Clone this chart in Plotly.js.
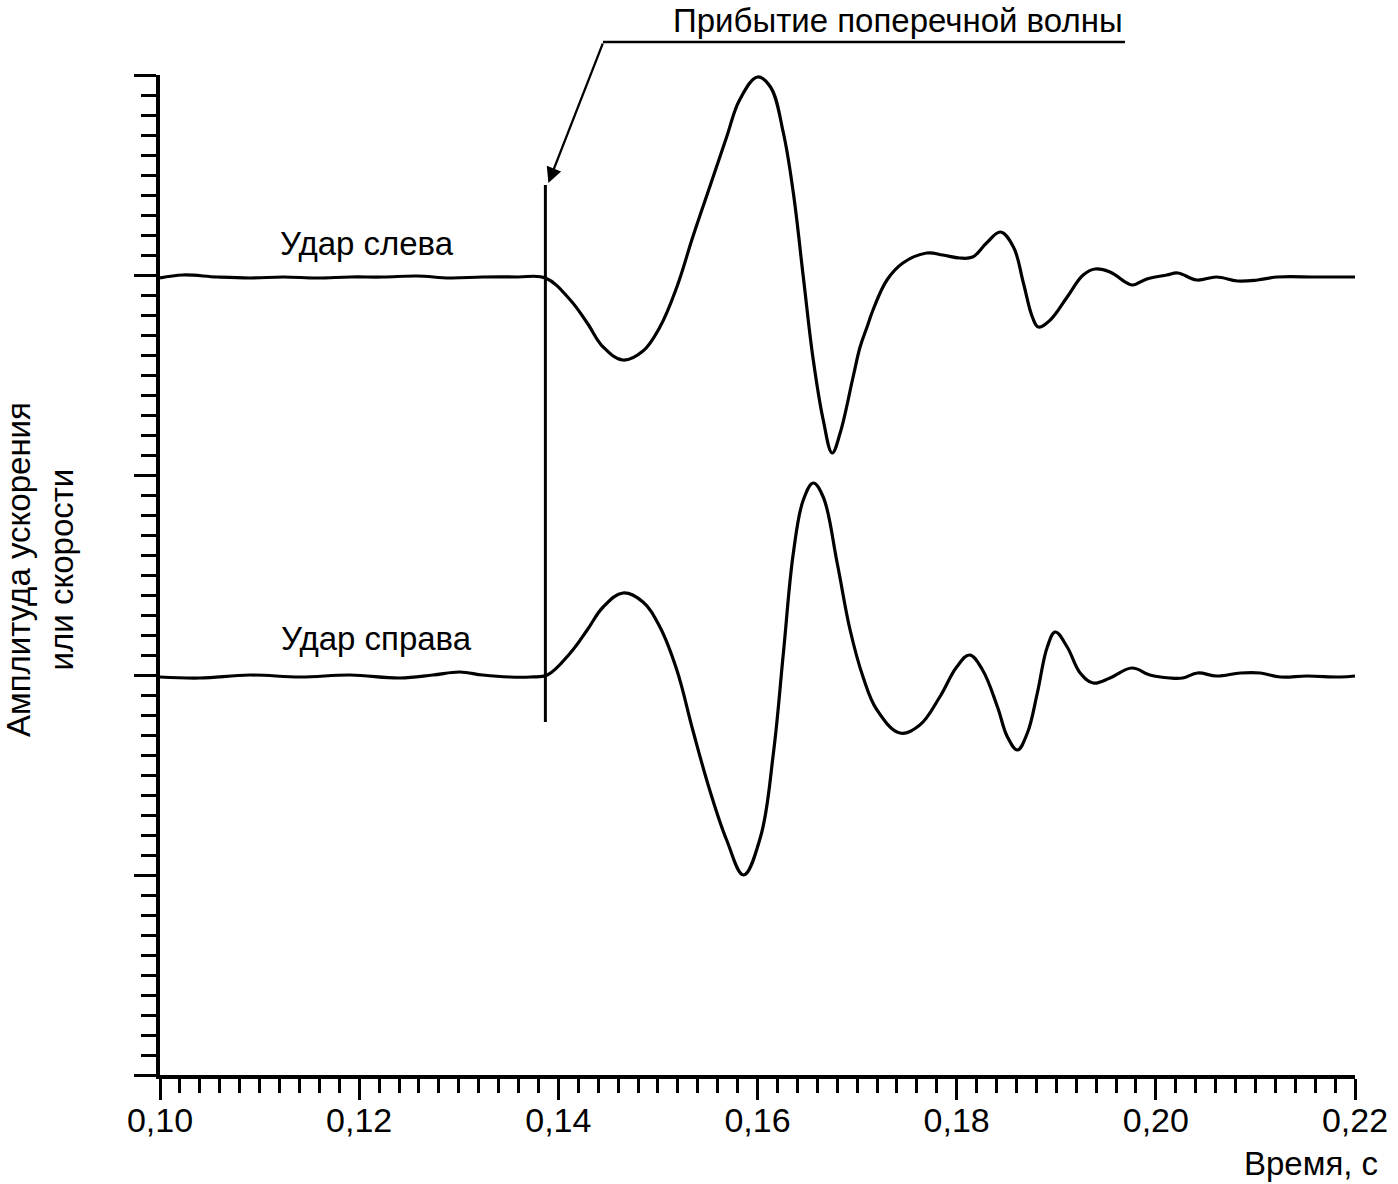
<!DOCTYPE html>
<html>
<head>
<meta charset="utf-8">
<script src="https://cdn.plot.ly/plotly-3.0.1.min.js"></script>
<style>body{margin:0;background:#fff}</style>
</head>
<body>
<div id="chart" style="width:1398px;height:1184px"></div>
<script>
// time, s
var timeLeft = [0.1000,0.1023,0.1057,0.1090,0.1124,0.1158,0.1191,0.1224,0.1258,0.1291,0.1324,0.1359,0.1387,
  0.1412,0.1429,0.1445,0.1465,0.1485,0.1502,0.1519,0.1535,0.1552,0.1569,0.1582,0.1600,0.1613,0.1626,0.1636,0.1646,0.1656,0.1666,0.1675,0.1683,
  0.1696,0.1703,0.1710,0.1716,0.1730,0.1746,0.1770,0.1786,0.1803,0.1816,0.1830,0.1844,0.1857,0.1867,0.1876,0.1882,0.1894,0.1911,0.1927,0.1939,
  0.1954,0.1971,0.1977,0.1991,0.2011,0.2022,0.2041,0.2061,0.2082,0.2102,0.2122,0.2162,0.2200];
var ampLeft = [3.985,4.0,3.99,3.985,3.99,3.985,3.99,3.99,3.995,3.985,3.99,3.99,3.985,
  3.875,3.76,3.64,3.575,3.62,3.74,3.94,4.19,4.44,4.69,4.875,4.99,4.94,4.71,4.41,3.99,3.575,3.275,3.11,3.21,
  3.49,3.64,3.74,3.825,3.975,4.06,4.11,4.10,4.085,4.09,4.16,4.215,4.14,3.96,3.79,3.74,3.775,3.89,4.00,4.03,
  4.015,3.96,3.95,3.98,4.00,4.01,3.975,3.99,3.97,3.975,3.99,3.99,3.99];

var timeRight = [0.1000,0.1040,0.1090,0.1141,0.1191,0.1241,0.1274,0.1301,0.1324,0.1351,0.1372,0.1389,
  0.1412,0.1429,0.1445,0.1465,0.1485,0.1502,0.1519,0.1535,0.1552,0.1569,0.1586,0.1603,0.1616,0.1626,0.1636,0.1646,0.1656,0.1666,
  0.1680,0.1693,0.1706,0.1720,0.1743,0.1763,0.1783,0.1800,0.1813,0.1826,0.1841,0.1851,0.1861,0.1871,0.1881,0.1891,0.1899,0.1911,
  0.1924,0.1937,0.1954,0.1976,0.1994,0.2014,0.2027,0.2042,0.2061,0.2085,0.2105,0.2125,0.2152,0.2185,0.2200];
var ampRight = [1.99,1.985,2.00,1.99,2.00,1.985,2.00,2.015,2.00,1.99,1.99,2.00,
  2.11,2.225,2.34,2.41,2.365,2.24,2.025,1.725,1.425,1.175,1.00,1.19,1.61,2.11,2.61,2.875,2.96,2.89,
  2.56,2.225,1.99,1.825,1.71,1.75,1.89,2.04,2.10,2.025,1.84,1.69,1.625,1.71,1.91,2.14,2.215,2.14,
  2.01,1.96,1.985,2.035,2.00,1.985,1.985,2.01,1.995,2.01,2.01,1.99,1.995,1.99,1.995];

var arrivalTime = 0.1387;
var xTicks = [0.10, 0.12, 0.14, 0.16, 0.18, 0.20, 0.22];
var xTickLabels = ['0,10', '0,12', '0,14', '0,16', '0,18', '0,20', '0,22'];

var FONT = '"Liberation Sans", Arial, sans-serif';

function trace(x, y) {
  return {
    x: x, y: y, type: 'scatter', mode: 'lines',
    line: {color: '#000', width: 3.2, shape: 'spline', smoothing: 1.1},
    hoverinfo: 'skip'
  };
}

var layout = {
  width: 1398, height: 1184,
  margin: {l: 160, r: 43, t: 75, b: 109},
  paper_bgcolor: '#fff', plot_bgcolor: '#fff',
  showlegend: false,
  font: {family: FONT, size: 33, color: '#000'},
  xaxis: {
    range: [0.10, 0.22],
    tickmode: 'array', tickvals: xTicks, ticktext: xTickLabels,
    ticks: 'outside', ticklen: 21, tickwidth: 3, tickcolor: '#000',
    ticklabelstandoff: -9,
    minor: {tickmode: 'linear', tick0: 0.1, dtick: 0.002, ticks: 'outside', ticklen: 14, tickwidth: 3, tickcolor: '#000'},
    showline: true, linewidth: 4, linecolor: '#000',
    showgrid: false, zeroline: false,
    tickfont: {family: FONT, size: 34, color: '#000'}
  },
  yaxis: {
    range: [0, 5],
    tickmode: 'linear', tick0: 0, dtick: 1,
    ticks: 'outside', ticklen: 22, tickwidth: 3, tickcolor: '#000',
    minor: {tickmode: 'linear', tick0: 0, dtick: 0.1, ticks: 'outside', ticklen: 15, tickwidth: 3, tickcolor: '#000'},
    showline: true, linewidth: 4, linecolor: '#000',
    showgrid: false, zeroline: false, showticklabels: false
  },
  shapes: [
    {type: 'line', xref: 'x', yref: 'y', x0: arrivalTime, x1: arrivalTime, y0: 1.765, y1: 4.45,
     line: {color: '#000', width: 3}},
    {type: 'line', xref: 'paper', yref: 'paper', x0: 0.3707, x1: 0.8075, y0: 1.033, y1: 1.033,
     line: {color: '#000', width: 2.5}}
  ],
  annotations: [
    {x: arrivalTime + 0.0003, y: 4.46, xref: 'x', yref: 'y', text: '', showarrow: true,
     ax: 55, ay: -141, arrowhead: 2, arrowsize: 1.4, arrowwidth: 2.2, arrowcolor: '#000'},
    {x: 0.8075, y: 1.055, xref: 'paper', yref: 'paper', xanchor: 'right', yanchor: 'middle',
     text: 'Прибытие поперечной волны', showarrow: false, font: {size: 33}},
    {x: 0.1208, y: 4.16, xref: 'x', yref: 'y', text: 'Удар слева', showarrow: false, font: {size: 33}},
    {x: 0.1217, y: 2.185, xref: 'x', yref: 'y', text: 'Удар справа', showarrow: false, font: {size: 33}},
    {x: -0.1004, y: 0.505, xref: 'paper', yref: 'paper', xanchor: 'center', yanchor: 'middle',
     textangle: -90, text: 'Амплитуда ускорения<br>или скорости', showarrow: false, font: {size: 33}},
    {x: 1.0209, y: -0.088, xref: 'paper', yref: 'paper', xanchor: 'right', yanchor: 'middle',
     text: 'Время, с', showarrow: false, font: {size: 33}}
  ]
};

Plotly.newPlot('chart', [trace(timeLeft, ampLeft), trace(timeRight, ampRight)], layout, {staticPlot: true});
</script>
</body>
</html>
